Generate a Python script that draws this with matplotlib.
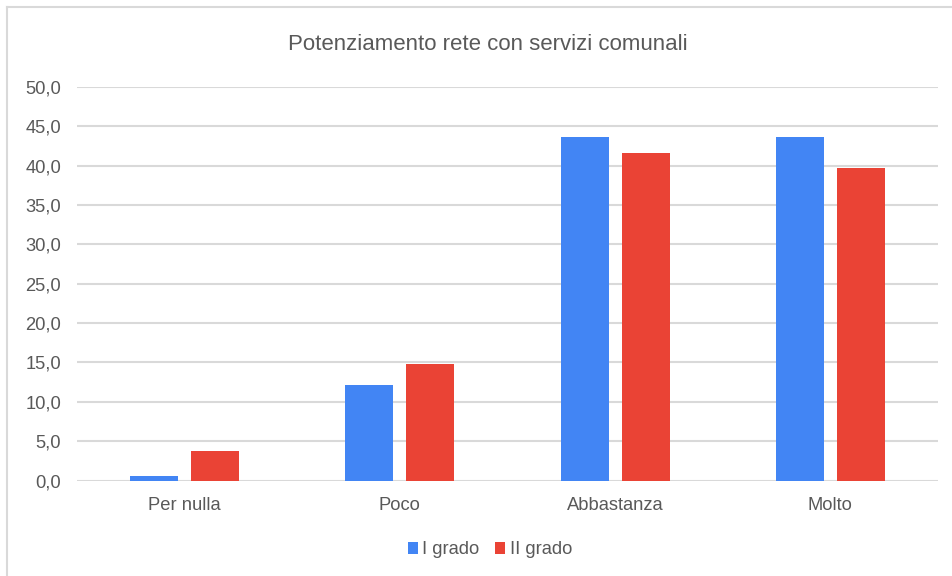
import matplotlib
matplotlib.use("Agg")
import matplotlib.pyplot as plt
import numpy as np
from matplotlib.patches import Patch
from matplotlib.lines import Line2D
from matplotlib.ticker import FuncFormatter, MultipleLocator

# Risposte per ordine di scuola (percentuali)
categorie = ['Per nulla', 'Poco', 'Abbastanza', 'Molto']
primo_grado = [0.6, 12.1, 43.6, 43.6]
secondo_grado = [3.8, 14.8, 41.6, 39.7]
serie = ['I grado', 'II grado']
titolo = 'Potenziamento rete con servizi comunali'

blu = '#4285F4'
rosso = '#EA4335'
testo = '#595959'
griglia = '#d9d9d9'

plt.rcParams['font.family'] = ['Liberation Sans', 'DejaVu Sans']

fig = plt.figure(figsize=(9.53, 5.76), dpi=100)
ax = fig.add_axes([77 / 953, 1 - 480.5 / 576, 861 / 953, (480.5 - 87) / 576])

x = np.arange(len(categorie))
w = 0.223
off = 0.1417
ax.bar(x - off, primo_grado, w, color=blu, zorder=3)
ax.bar(x + off, secondo_grado, w, color=rosso, zorder=3)

ax.set_xlim(-0.5, len(categorie) - 0.5)
ax.set_ylim(0, 50)
ax.yaxis.set_major_locator(MultipleLocator(5))
ax.yaxis.set_major_formatter(FuncFormatter(lambda v, p: f'{v:.1f}'.replace('.', ',')))
ax.grid(axis='y', color=griglia, linewidth=1.5, zorder=0)
for s in ax.spines.values():
    s.set_visible(False)
ax.set_xticks(x)
ax.set_xticklabels(categorie)
ax.tick_params(axis='both', length=0, labelsize=13.2, labelcolor=testo)
ax.tick_params(axis='y', pad=11.5)
ax.tick_params(axis='x', pad=12)

fig.text(488 / 953, 1 - 44 / 576, titolo, ha='center', va='center',
         fontsize=16, color=testo)

handles = [Patch(facecolor=blu), Patch(facecolor=rosso)]
fig.legend(handles, serie, loc='center', bbox_to_anchor=(490 / 953, 1 - 550 / 576),
           ncol=2, frameon=False, fontsize=13.2, labelcolor=testo,
           handlelength=0.55, handleheight=0.55, handletextpad=0.25,
           columnspacing=0.85)

# bordo del riquadro
fig.add_artist(Line2D([7 / 953, 1], [1 - 7 / 576, 1 - 7 / 576], color=griglia, linewidth=1.5))
fig.add_artist(Line2D([7 / 953, 7 / 953], [0, 1 - 7 / 576], color=griglia, linewidth=1.5))

fig.savefig('out.png', dpi=100, facecolor='white')
